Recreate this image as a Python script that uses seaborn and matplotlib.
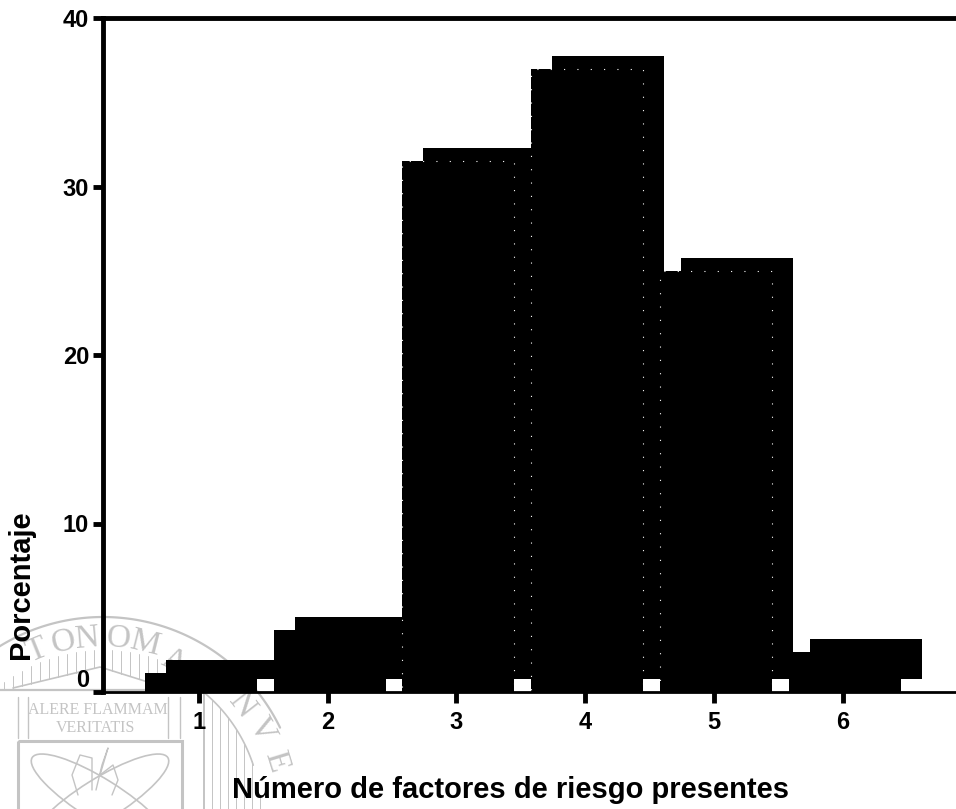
import numpy as np
import pandas as pd
import matplotlib.pyplot as plt
import seaborn as sns
from matplotlib.patches import Ellipse, Rectangle
from matplotlib.transforms import ScaledTranslation

factores = [1, 2, 3, 4, 5, 6]
porcentaje = [1.1, 3.7, 31.5, 37.0, 25.0, 2.35]
marcas_y = [0, 10, 20, 30, 40]

W, H = 956, 809
GRIS = '#c4c4c4'

sns.set_theme(style='white')
plt.rcParams['font.family'] = ['Liberation Sans', 'DejaVu Sans']
plt.rcParams['font.weight'] = 'bold'

df = pd.DataFrame({'factores': factores, 'porcentaje': porcentaje})

fig = plt.figure(figsize=(W / 100, H / 100), dpi=100)

########### sello de agua, en pixeles de la figura ###########
sello = fig.add_axes([0, 0, 1, 1], zorder=0)
sello.set_xlim(0, W)
sello.set_ylim(H, 0)
sello.axis('off')
cx, cy = 103, 814
def arco(r, a0, a1, lw=1.6):
    t = np.radians(np.linspace(a0, a1, 120))
    sello.plot(cx + r * np.sin(t), cy - r * np.cos(t), color=GRIS, lw=lw)
arco(197, -32, 64)
arco(158, 38, 72, lw=1.2)
for letra, ang, rad in zip('TONOMANVE', [-22, -13, -5, 5, 14, 25, 52, 62, 73],
                           [176, 176, 176, 176, 176, 168, 176, 180, 181]):
    r = np.radians(ang)
    sello.text(cx + rad * np.sin(r), cy - rad * np.cos(r), letra, rotation=-ang, color=GRIS,
               ha='center', va='center', fontsize=24, family='Liberation Serif', weight='normal')
sello.text(98, 710, 'ALERE FLAMMAM', color=GRIS, ha='center', va='center', fontsize=11.5,
           family='Liberation Serif', weight='normal')
sello.text(96, 728, 'VERITATIS', color=GRIS, ha='center', va='center', fontsize=11.5,
           family='Liberation Serif', weight='normal')
# templete
sello.plot([0, 13, 177], [690, 690, 690], color=GRIS, lw=1.6)
sello.plot([13, 100, 167], [688, 667, 688], color=GRIS, lw=1.2)
for xl in np.arange(4, 170, 9):
    techo = 814 - np.sqrt(170 ** 2 - (xl - 103) ** 2) + 6
    piso = 688 - 21 * (1 - abs(xl - 100) / (87 if xl < 100 else 67))
    if xl < 13:
        piso = 690
    sello.plot([xl, xl], [techo, piso], color=GRIS, lw=0.7)
for x0, x1 in [(18, 28), (168, 180)]:
    sello.plot([x0, x0], [697, 738], color=GRIS, lw=1)
    sello.plot([x1, x1], [697, 738], color=GRIS, lw=1)
sello.add_patch(Rectangle((18, 741), 164, 90, fill=False, ec=GRIS, lw=2.2))
sello.add_patch(Ellipse((100, 800), 160, 42, angle=32, fill=False, ec=GRIS, lw=1.2))
sello.add_patch(Ellipse((100, 800), 160, 42, angle=-32, fill=False, ec=GRIS, lw=1.2))
sello.plot([96, 102, 108, 100, 113, 118, 112], [790, 765, 748, 775, 765, 780, 795], color=GRIS, lw=1)
sello.plot([78, 72, 80, 92, 92], [795, 775, 755, 758, 790], color=GRIS, lw=1)
sello.plot([204, 204], [693, 809], color=GRIS, lw=1.4)
for xl in np.arange(212, 262, 8):
    sello.plot([xl, xl], [814 - np.sqrt(158 ** 2 - (xl - 103) ** 2), 809], color=GRIS, lw=0.7)

############ Se realizan las graficas ############
ax = fig.add_axes([103 / W, 1 - 692 / H, (W - 103) / W, (692 - 18) / H], zorder=1)
ax.patch.set_alpha(0)

# sombra, centrada en cada valor
sns.barplot(data=df, x='factores', y='porcentaje', native_scale=True, width=0.87,
            color='black', saturation=1, linewidth=0, ax=ax)
# barras delanteras, desplazadas a la derecha y hacia arriba
sns.barplot(data=df, x='factores', y='porcentaje', native_scale=True, width=0.87,
            color='black', saturation=1, linewidth=0, ax=ax)
# borde de la sombra que se transparenta en la fotocopia, solo en las barras altas
sns.barplot(data=df[df['factores'].between(3, 5)], x='factores', y='porcentaje', native_scale=True,
            width=0.87, fill=False, color='white', saturation=1, linewidth=0.8,
            linestyle=(0, (1, 11)), ax=ax)
for p in ax.containers[0]:
    p.set_x(p.get_x() + 0.015)
for p in ax.containers[1]:
    p.set_x(p.get_x() + 0.178)
    p.set_y(0.77)
for p in ax.containers[2]:
    p.set_x(p.get_x() + 0.015)
    p.set_zorder(1.5)
for cont in ax.containers:
    for p in cont:
        p.set_clip_on(False)

ax.set_xlim(0.255, 6.88)
ax.set_ylim(0, 40)
ax.set_xticks(factores)
ax.set_yticks(marcas_y)
ax.tick_params(axis='both', length=7, width=3.5, color='black', labelcolor='black', labelsize=17, bottom=True, left=True)
ax.tick_params(axis='x', length=8, pad=6)
ax.tick_params(axis='y', pad=3)
for lado in ['left', 'top', 'bottom']:
    ax.spines[lado].set_visible(True)
    ax.spines[lado].set_color('black')
ax.spines['left'].set_linewidth(3.5)
ax.spines['top'].set_linewidth(3.5)
ax.spines['bottom'].set_linewidth(2)
ax.spines['right'].set_visible(False)

ax.set_xlabel('')
ax.set_ylabel('')
# el 0 queda por encima de su marca, como en el original
fig.canvas.draw()
etiqueta_0 = ax.get_yticklabels()[0]
etiqueta_0.set_transform(etiqueta_0.get_transform() + ScaledTranslation(0, 14 / 100, fig.dpi_scale_trans))

fig.text(511 / W, 1 - 790 / H, 'Número de factores de riesgo presentes', ha='center', va='center',
         fontsize=21, fontweight='bold', color='black')
fig.text(21 / W, 1 - 585 / H, 'Porcentaje', rotation=90, ha='center', va='center',
         fontsize=21, fontweight='bold', color='black')

fig.savefig('out.png', dpi=100)
